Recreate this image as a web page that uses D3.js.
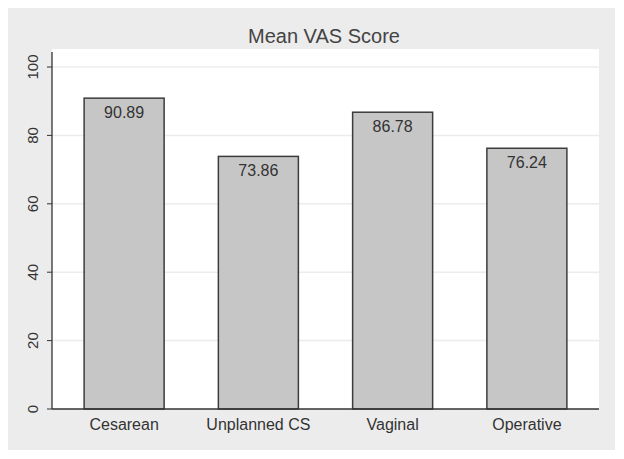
<!DOCTYPE html>
<html><head><meta charset="utf-8">
<script src="https://cdn.jsdelivr.net/npm/d3@7"></script>
<style>body{margin:0;background:#fff}svg{display:block}</style>
</head><body>
<script>
const categories = ["Cesarean", "Unplanned CS", "Vaginal", "Operative"];
const values = [90.89, 73.86, 86.78, 76.24];
const yTicks = [0, 20, 40, 60, 80, 100];
const title = "Mean VAS Score";

const W = 624, H = 459;
const svg = d3.select("body").append("svg").attr("width", W).attr("height", H);
const font = "Liberation Sans, Arial, sans-serif";

// outer grey panel
svg.append("rect").attr("x", 8).attr("y", 8).attr("width", 607).attr("height", 442).attr("fill", "#ececec");
// plot area
const px0 = 52, px1 = 599, py0 = 49, py1 = 409;
svg.append("rect").attr("x", px0).attr("y", py0).attr("width", px1 - px0).attr("height", py1 - py0).attr("fill", "#fff");

const x = d3.scaleBand().domain(categories).range([57, 594]).paddingInner(0.404).paddingOuter(0.202);
const y = d3.scaleLinear().domain([0, 100]).range([409, 67]);

// gridlines
svg.append("g").selectAll("line").data(yTicks.filter(d => d > 0)).join("line")
  .attr("x1", px0).attr("x2", px1).attr("y1", d => y(d)).attr("y2", d => y(d))
  .attr("stroke", "#ececec").attr("stroke-width", 1.5);

// bars
svg.append("g").selectAll("rect").data(values).join("rect")
  .attr("x", (d, i) => x(categories[i]))
  .attr("y", d => y(d))
  .attr("width", x.bandwidth())
  .attr("height", d => y(0) - y(d))
  .attr("fill", "#c6c6c6").attr("stroke", "#3c3c3c").attr("stroke-width", 1.5);

// value labels
svg.append("g").selectAll("text").data(values).join("text")
  .attr("x", (d, i) => x(categories[i]) + x.bandwidth() / 2)
  .attr("y", d => y(d) + 20)
  .attr("text-anchor", "middle").attr("font-family", font).attr("font-size", 16)
  .attr("fill", "#333").text(d => d.toFixed(2));

// y axis
const yAxis = d3.axisLeft(y).tickValues(yTicks).tickSize(5).tickPadding(9);
const gy = svg.append("g").attr("transform", `translate(${px0},0)`).call(yAxis);
gy.select(".domain").remove();
gy.selectAll(".tick line").attr("stroke", "#333");
gy.selectAll(".tick text").attr("font-family", font).attr("font-size", 15).attr("fill", "#333")
  .attr("transform", function(d){ return `rotate(-90, ${-14}, ${y(d)})`; })
  .attr("x", -14).attr("y", d => y(d)).attr("dy", "0").attr("text-anchor", "middle");
gy.selectAll(".tick").attr("transform", null);
gy.selectAll(".tick line").attr("y1", d => y(d)).attr("y2", d => y(d));
svg.append("line").attr("x1", px0).attr("x2", px0).attr("y1", 52).attr("y2", 409).attr("stroke", "#333").attr("stroke-width", 1.3);

// x axis
const xAxis = d3.axisBottom(x).tickSize(0).tickPadding(10);
const gx = svg.append("g").attr("transform", `translate(0,${py1})`).call(xAxis);
gx.select(".domain").remove();
gx.selectAll(".tick text").attr("font-family", font).attr("font-size", 16).attr("fill", "#333");
svg.append("line").attr("x1", px0).attr("x2", px1).attr("y1", py1).attr("y2", py1).attr("stroke", "#333").attr("stroke-width", 1.5);

// title
svg.append("text").attr("x", 324).attr("y", 43).attr("text-anchor", "middle")
  .attr("font-family", font).attr("font-size", 20).attr("fill", "#444").text(title);
</script>
</body></html>
